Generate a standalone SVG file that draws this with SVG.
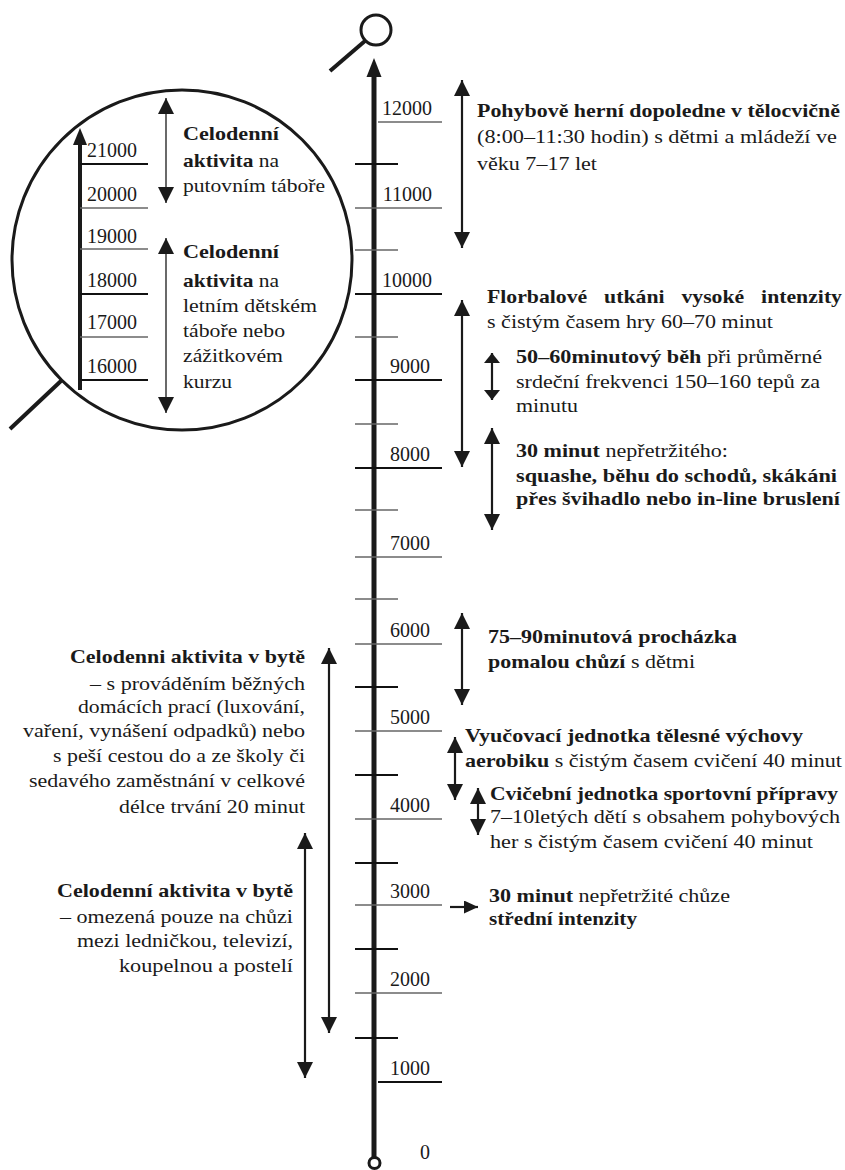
<svg xmlns="http://www.w3.org/2000/svg" width="845" height="1170" viewBox="0 0 845 1170" font-family="'Liberation Serif', 'Times New Roman', Tinos, 'DejaVu Serif', serif">
<style>
.t{font-family:'Liberation Serif','Times New Roman',Tinos,'DejaVu Serif',serif;font-size:19px;fill:#1a1a1a}
.b{font-weight:bold}
.n{font-family:'Liberation Serif','Times New Roman',Tinos,'DejaVu Serif',serif;font-size:20px;fill:#1a1a1a}
.tk{stroke:#666;stroke-width:1.3}
.tkd{stroke:#111;stroke-width:1.8}
.arr{stroke:#1a1a1a;stroke-width:2.2;fill:none}
.carr{stroke:#444;stroke-width:1.6;fill:none}
</style>
<defs>
<marker id="ah" viewBox="0 0 16 16" refX="16" refY="8" markerWidth="16" markerHeight="16" markerUnits="userSpaceOnUse" orient="auto-start-reverse"><path d="M0,0 L16,8 L0,16 z" fill="#1a1a1a"/></marker>
<marker id="ahs" viewBox="0 0 10 16" refX="10" refY="8" markerWidth="10" markerHeight="16" markerUnits="userSpaceOnUse" orient="auto-start-reverse"><path d="M0,0 L10,8 L0,16 z" fill="#1a1a1a"/></marker>
<marker id="ahr" viewBox="0 0 14 13" refX="14" refY="6.5" markerWidth="14" markerHeight="13" markerUnits="userSpaceOnUse" orient="auto"><path d="M0,0 L14,6.5 L0,13 z" fill="#1a1a1a"/></marker>
</defs>
<rect width="845" height="1170" fill="#fff"/>

<g id="axis">
<line x1="374" y1="1158" x2="374" y2="72" stroke="#1a1a1a" stroke-width="5"/>
<polygon points="366.5,77 374,58 381.5,77" fill="#1a1a1a"/>
<circle cx="374.5" cy="1163" r="5.5" fill="#fff" stroke="#1a1a1a" stroke-width="3"/>
<circle cx="376" cy="30" r="15" fill="none" stroke="#1a1a1a" stroke-width="3"/>
<line x1="330" y1="71" x2="365.5" y2="40.5" stroke="#1a1a1a" stroke-width="4"/>
</g>

<g id="ticks">
<line class="tk" x1="378" y1="122" x2="442" y2="122"/>
<line class="tkd" x1="355" y1="164" x2="398" y2="164"/>
<line class="tk" x1="355" y1="208" x2="442" y2="208"/>
<line class="tk" x1="355" y1="250" x2="398" y2="250"/>
<line class="tkd" x1="355" y1="294" x2="442" y2="294"/>
<line class="tk" x1="355" y1="337" x2="398" y2="337"/>
<line class="tkd" x1="355" y1="380" x2="442" y2="380"/>
<line class="tk" x1="355" y1="424" x2="398" y2="424"/>
<line class="tkd" x1="355" y1="468" x2="442" y2="468"/>
<line class="tk" x1="355" y1="510" x2="398" y2="510"/>
<line class="tk" x1="355" y1="557" x2="442" y2="557"/>
<line class="tk" x1="355" y1="599" x2="398" y2="599"/>
<line class="tk" x1="355" y1="644" x2="442" y2="644"/>
<line class="tkd" x1="355" y1="687" x2="398" y2="687"/>
<line class="tk" x1="355" y1="731" x2="442" y2="731"/>
<line class="tkd" x1="355" y1="775" x2="398" y2="775"/>
<line class="tk" x1="355" y1="819" x2="442" y2="819"/>
<line class="tkd" x1="355" y1="863" x2="398" y2="863"/>
<line class="tk" x1="355" y1="905" x2="442" y2="905"/>
<line class="tkd" x1="355" y1="949" x2="398" y2="949"/>
<line class="tk" x1="355" y1="993" x2="442" y2="993"/>
<line class="tkd" x1="355" y1="1038" x2="398" y2="1038"/>
<line class="tkd" x1="378" y1="1082" x2="442" y2="1082"/>
<g text-anchor="end">
<text class="n" x="432" y="115">12000</text>
<text class="n" x="432" y="201">11000</text>
<text class="n" x="432" y="287">10000</text>
<text class="n" x="430" y="373">9000</text>
<text class="n" x="430" y="461">8000</text>
<text class="n" x="430" y="550">7000</text>
<text class="n" x="430" y="637">6000</text>
<text class="n" x="430" y="724">5000</text>
<text class="n" x="430" y="812">4000</text>
<text class="n" x="430" y="898">3000</text>
<text class="n" x="430" y="986">2000</text>
<text class="n" x="430" y="1075">1000</text>
<text class="n" x="430" y="1159">0</text>
</g>
</g>

<g id="magnifier">
<circle cx="182" cy="260" r="170" fill="none" stroke="#1a1a1a" stroke-width="3"/>
<line x1="62" y1="380" x2="10" y2="429" stroke="#1a1a1a" stroke-width="4"/>
<line x1="80" y1="390" x2="80" y2="142" stroke="#1a1a1a" stroke-width="4"/>
<polygon points="73,145 80,128 87,145" fill="#1a1a1a"/>
<line class="tkd" x1="80" y1="164" x2="148" y2="164"/>
<line class="tk" x1="80" y1="208" x2="148" y2="208"/>
<line class="tk" x1="80" y1="249" x2="148" y2="249"/>
<line class="tkd" x1="80" y1="294" x2="148" y2="294"/>
<line class="tk" x1="80" y1="337" x2="148" y2="337"/>
<line class="tkd" x1="80" y1="380" x2="148" y2="380"/>
<text class="n" x="87" y="157">21000</text>
<text class="n" x="87" y="201">20000</text>
<text class="n" x="87" y="243">19000</text>
<text class="n" x="87" y="287">18000</text>
<text class="n" x="87" y="329">17000</text>
<text class="n" x="87" y="373">16000</text>
</g>

<g id="node-putovni-tabor">
<text class="t b" x="183" y="140" textLength="96" lengthAdjust="spacingAndGlyphs">Celodenní</text>
<text class="t" x="183" y="167" textLength="96" lengthAdjust="spacingAndGlyphs"><tspan class="b">aktivita</tspan> na</text>
<text class="t" x="183" y="192" textLength="142" lengthAdjust="spacingAndGlyphs">putovním táboře</text>
</g>

<g id="node-letni-tabor">
<text class="t b" x="183" y="258" textLength="96" lengthAdjust="spacingAndGlyphs">Celodenní</text>
<text class="t" x="183" y="287" textLength="96" lengthAdjust="spacingAndGlyphs"><tspan class="b">aktivita</tspan> na</text>
<text class="t" x="183" y="312" textLength="134" lengthAdjust="spacingAndGlyphs">letním dětském</text>
<text class="t" x="183" y="337" textLength="102" lengthAdjust="spacingAndGlyphs">táboře nebo</text>
<text class="t" x="183" y="362" textLength="100" lengthAdjust="spacingAndGlyphs">zážitkovém</text>
<text class="t" x="183" y="388" textLength="49" lengthAdjust="spacingAndGlyphs">kurzu</text>
</g>

<g id="node-pohybove-dopoledne">
<text class="t b" x="477" y="117" textLength="363" lengthAdjust="spacingAndGlyphs">Pohybově herní dopoledne v tělocvičně</text>
<text class="t" x="477" y="143" textLength="360" lengthAdjust="spacingAndGlyphs">(8:00–11:30 hodin) s dětmi a mládeží ve</text>
<text class="t" x="477" y="170" textLength="120" lengthAdjust="spacingAndGlyphs">věku 7–17 let</text>
</g>

<g id="node-florbal">
<text class="t b" x="487" y="303" textLength="355" lengthAdjust="spacingAndGlyphs" word-spacing="10">Florbalové utkáni vysoké intenzity</text>
<text class="t" x="487" y="328" textLength="286" lengthAdjust="spacingAndGlyphs">s čistým časem hry 60–70 minut</text>
</g>

<g id="node-beh">
<text class="t" x="516" y="363" textLength="306" lengthAdjust="spacingAndGlyphs"><tspan class="b">50–60minutový běh</tspan> při průměrné</text>
<text class="t" x="516" y="388" textLength="304" lengthAdjust="spacingAndGlyphs">srdeční frekvenci 150–160 tepů za</text>
<text class="t" x="516" y="412" textLength="62" lengthAdjust="spacingAndGlyphs">minutu</text>
</g>

<g id="node-squash">
<text class="t" x="516" y="457" textLength="212" lengthAdjust="spacingAndGlyphs"><tspan class="b">30 minut</tspan> nepřetržitého:</text>
<text class="t b" x="516" y="482" textLength="321" lengthAdjust="spacingAndGlyphs">squashe, běhu do schodů, skákáni</text>
<text class="t b" x="516" y="505" textLength="324" lengthAdjust="spacingAndGlyphs">přes švihadlo nebo in-line bruslení</text>
</g>

<g id="node-prochazka">
<text class="t b" x="488" y="643" textLength="249" lengthAdjust="spacingAndGlyphs">75–90minutová procházka</text>
<text class="t" x="488" y="668" textLength="207" lengthAdjust="spacingAndGlyphs"><tspan class="b">pomalou chůzí</tspan> s dětmi</text>
</g>

<g id="node-aerobik">
<text class="t b" x="465" y="742" textLength="338" lengthAdjust="spacingAndGlyphs">Vyučovací jednotka tělesné výchovy</text>
<text class="t" x="465" y="767" textLength="377" lengthAdjust="spacingAndGlyphs"><tspan class="b">aerobiku</tspan> s čistým časem cvičení 40 minut</text>
</g>

<g id="node-sportovni-priprava">
<text class="t b" x="490" y="800" textLength="348" lengthAdjust="spacingAndGlyphs">Cvičební jednotka sportovní přípravy</text>
<text class="t" x="490" y="823" textLength="350" lengthAdjust="spacingAndGlyphs">7–10letých dětí s obsahem pohybových</text>
<text class="t" x="490" y="848" textLength="323" lengthAdjust="spacingAndGlyphs">her s čistým časem cvičení 40 minut</text>
</g>

<g id="node-chuze">
<text class="t" x="489" y="902" textLength="241" lengthAdjust="spacingAndGlyphs"><tspan class="b">30 minut</tspan> nepřetržité chůze</text>
<text class="t b" x="489" y="925" textLength="148" lengthAdjust="spacingAndGlyphs">střední intenzity</text>
</g>

<g id="node-byt-prace">
<text class="t b" x="70" y="663" textLength="235" lengthAdjust="spacingAndGlyphs">Celodenni aktivita v bytě</text>
<text class="t" x="90" y="690" textLength="215" lengthAdjust="spacingAndGlyphs">– s prováděním běžných</text>
<text class="t" x="78" y="713" textLength="227" lengthAdjust="spacingAndGlyphs">domácích prací (luxování,</text>
<text class="t" x="23" y="737" textLength="282" lengthAdjust="spacingAndGlyphs">vaření, vynášení odpadků) nebo</text>
<text class="t" x="53" y="762" textLength="252" lengthAdjust="spacingAndGlyphs">s peší cestou do a ze školy či</text>
<text class="t" x="29" y="787" textLength="276" lengthAdjust="spacingAndGlyphs">sedavého zaměstnání v celkové</text>
<text class="t" x="119" y="813" textLength="186" lengthAdjust="spacingAndGlyphs">délce trvání 20 minut</text>
</g>

<g id="node-byt-omezena">
<text class="t b" x="57" y="897" textLength="236" lengthAdjust="spacingAndGlyphs">Celodenní aktivita v bytě</text>
<text class="t" x="60" y="923" textLength="233" lengthAdjust="spacingAndGlyphs">– omezená pouze na chůzi</text>
<text class="t" x="77" y="947" textLength="216" lengthAdjust="spacingAndGlyphs">mezi ledničkou, televizí,</text>
<text class="t" x="119" y="972" textLength="174" lengthAdjust="spacingAndGlyphs">koupelnou a postelí</text>
</g>

<g id="connectors">
<line class="carr" x1="166" y1="98" x2="166" y2="203" marker-start="url(#ah)" marker-end="url(#ah)"/>
<line class="carr" x1="166" y1="238" x2="166" y2="413" marker-start="url(#ah)" marker-end="url(#ah)"/>
<line class="arr" x1="462" y1="80" x2="462" y2="248" marker-start="url(#ah)" marker-end="url(#ah)"/>
<line class="arr" x1="462" y1="300" x2="462" y2="467" marker-start="url(#ah)" marker-end="url(#ah)"/>
<line class="arr" x1="492" y1="353" x2="492" y2="400" marker-start="url(#ahs)" marker-end="url(#ahs)"/>
<line class="arr" x1="492" y1="428" x2="492" y2="530" marker-start="url(#ah)" marker-end="url(#ah)"/>
<line class="arr" x1="462" y1="613" x2="462" y2="705" marker-start="url(#ah)" marker-end="url(#ah)"/>
<line class="arr" x1="455" y1="737" x2="455" y2="800" marker-start="url(#ah)" marker-end="url(#ah)"/>
<line class="arr" x1="478" y1="788" x2="478" y2="835" marker-start="url(#ah)" marker-end="url(#ah)"/>
<line class="arr" x1="450" y1="907" x2="478" y2="907" marker-end="url(#ahr)"/>
<line class="arr" x1="329" y1="648" x2="329" y2="1033" marker-start="url(#ah)" marker-end="url(#ah)"/>
<line class="arr" x1="305" y1="833" x2="305" y2="1078" marker-start="url(#ah)" marker-end="url(#ah)"/>
</g>
</svg>
